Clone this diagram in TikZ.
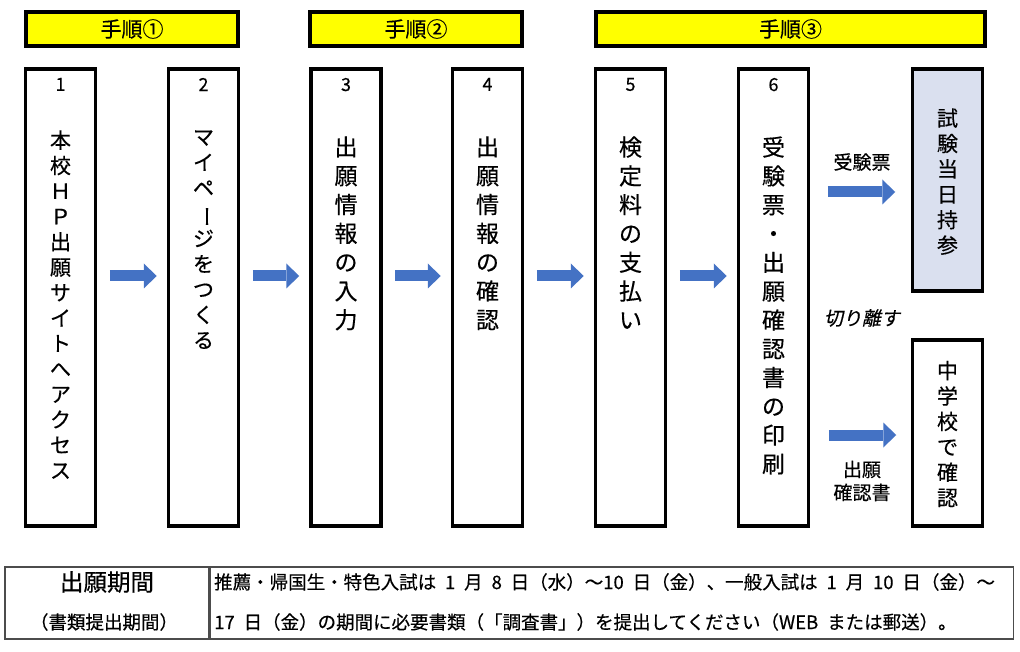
\documentclass[tikz,border=0pt]{standalone}
\usepackage{fontspec}
\setmainfont{Noto Sans CJK JP}[FakeBold=0.4]
\newfontfamily\slantfont[FakeSlant=0.2,FakeBold=0.4]{Noto Sans CJK JP}
\usepackage{xcolor}
\usepackage{tikz}
\usetikzlibrary{arrows.meta,positioning}
\definecolor{stepyellow}{HTML}{FFFF00}
\definecolor{flowblue}{HTML}{4472C4}
\definecolor{exambg}{HTML}{DAE0EF}
\newcommand{\widesp}{\spaceskip 0.48em\relax}
\tikzset{
  hdrbox/.style={rectangle, draw=black, line width=3.5pt, fill=stepyellow,
                 minimum height=34pt, inner sep=0pt, font=\fontsize{21}{21}\selectfont},
  stepbox/.style={rectangle, draw=black, line width=3.5pt, minimum width=70pt,
                  minimum height=#1, inner sep=0pt},
  stepbox/.default=457pt,
  numtxt/.style={anchor=north, inner sep=0pt, font=\fontsize{18}{18}\selectfont},
  coltxt/.style={anchor=north, inner sep=0pt, align=center, font=\fontsize{21}{25.4}\selectfont},
  bigcol/.style={coltxt, font=\fontsize{23}{28.8}\selectfont},
  lbltxt/.style={inner sep=0pt, align=center, font=\fontsize{19}{23}\selectfont},
  flow/.style={line width=11pt, draw=flowblue,
               -{Triangle[length=13pt,width=25pt,line width=0pt]}},
  cell/.style={rectangle, draw=black!70, line width=1.2pt, minimum height=72pt, inner sep=0pt},
  tbltxt/.style={anchor=west, inner sep=0pt, font=\fontsize{18.5}{18.5}\selectfont\widesp},
}
\newcommand{\vbar}{\rotatebox[origin=c]{-90}{ー}}

\begin{document}
\begin{tikzpicture}[x=1pt, y=-1pt]
  \useasboundingbox (0,0) rectangle (1020,652);
  % step headers
  \node[hdrbox, minimum width=212pt] (h1) at (132,29)   {手順①};
  \node[hdrbox, minimum width=212pt] (h2) at (416,29)   {手順②};
  \node[hdrbox, minimum width=389pt] (h3) at (790.5,29) {手順③};
  % step columns
  \node[stepbox] (b1) at (60.5,297.5)  {};
  \node[stepbox] (b2) at (203.5,297.5) {};
  \node[stepbox] (b3) at (346,297.5)   {};
  \node[stepbox] (b4) at (487.5,297.5) {};
  \node[stepbox] (b5) at (630.5,297.5) {};
  \node[stepbox] (b6) at (773.5,297.5) {};
  \node[stepbox=222pt, fill=exambg] (exam) at (947.5,180) {};
  \node[stepbox=186pt] (chk) at (947.5,433) {};
  % numbers
  \node[numtxt, below=10.5pt of b1.north] (n1) {1};
  \node[numtxt, below=10.5pt of b2.north] (n2) {2};
  \node[numtxt, below=10.5pt of b3.north] (n3) {3};
  \node[numtxt, below=10.5pt of b4.north] (n4) {4};
  \node[numtxt, below=10.5pt of b5.north] (n5) {5};
  \node[numtxt, below=10.5pt of b6.north] (n6) {6};
  % column texts
  \node[coltxt, below=63pt of b1.north] (t1) {本\\校\\Ｈ\\Ｐ\\出\\願\\サ\\イ\\ト\\へ\\ア\\ク\\セ\\ス};
  \node[coltxt, below=63pt of b2.north] (t2) {マ\\イ\\ペ\\\vbar\\ジ\\を\\つ\\く\\る};
  \node[bigcol, below=69pt of b3.north] (t3) {出\\願\\情\\報\\の\\入\\力};
  \node[bigcol, below=69pt of b4.north] (t4) {出\\願\\情\\報\\の\\確\\認};
  \node[bigcol, below=69pt of b5.north] (t5) {検\\定\\料\\の\\支\\払\\い};
  \node[bigcol, below=69pt of b6.north] (t6) {受\\験\\票\\・\\出\\願\\確\\認\\書\\の\\印\\刷};
  \node[coltxt, below=41pt of exam.north] (t7) {試\\験\\当\\日\\持\\参};
  \node[coltxt, below=22.5pt of chk.north] (t8) {中\\学\\校\\で\\確\\認};
  % flow arrows
  \foreach \a/\b in {b1/b2, b2/b3, b3/b4, b4/b5, b5/b6}
    \draw[flow, shorten <=12.5pt, shorten >=10pt] ([yshift=21.5pt]\a.east) -- ([yshift=21.5pt]\b.west);
  \draw[flow, shorten <=17.5pt, shorten >=15.5pt] ([yshift=105.5pt]b6.east) -- ([yshift=-12pt]exam.west);
  \draw[flow, shorten <=18.5pt, shorten >=14.5pt] ([yshift=-137.5pt]b6.east) -- ([yshift=-2pt]chk.west);
  % arrow labels
  \node[lbltxt] (l1) at (862,162) {受験票};
  \node[lbltxt, font=\slantfont\fontsize{19}{23}\selectfont] (l2) at (862,318) {切り離す};
  \node[lbltxt] (l3) at (862,481) {出願\\確認書};
  % period table
  \node[cell, minimum width=204pt] (c1) at (107,603) {};
  \node[cell, minimum width=803pt, anchor=west] (c2) at (c1.east) {};
  \node[font=\fontsize{23.5}{23.5}\selectfont] (p1) at (107,582) {出願期間};
  \node[font=\fontsize{18.5}{18.5}\selectfont] (p2) at (104,622) {（書類提出期間）};
  \node[tbltxt] (p3) at (214,582)
    {推薦・帰国生・特色入試は 1 月 8 日（水）～10 日（金）、一般入試は 1 月 10 日（金）～};
  \node[tbltxt] (p4) at (214,622)
    {17 日（金）の期間に必要書類（「調査書」）を提出してください（WEB または郵送）。};
\end{tikzpicture}
\end{document}
